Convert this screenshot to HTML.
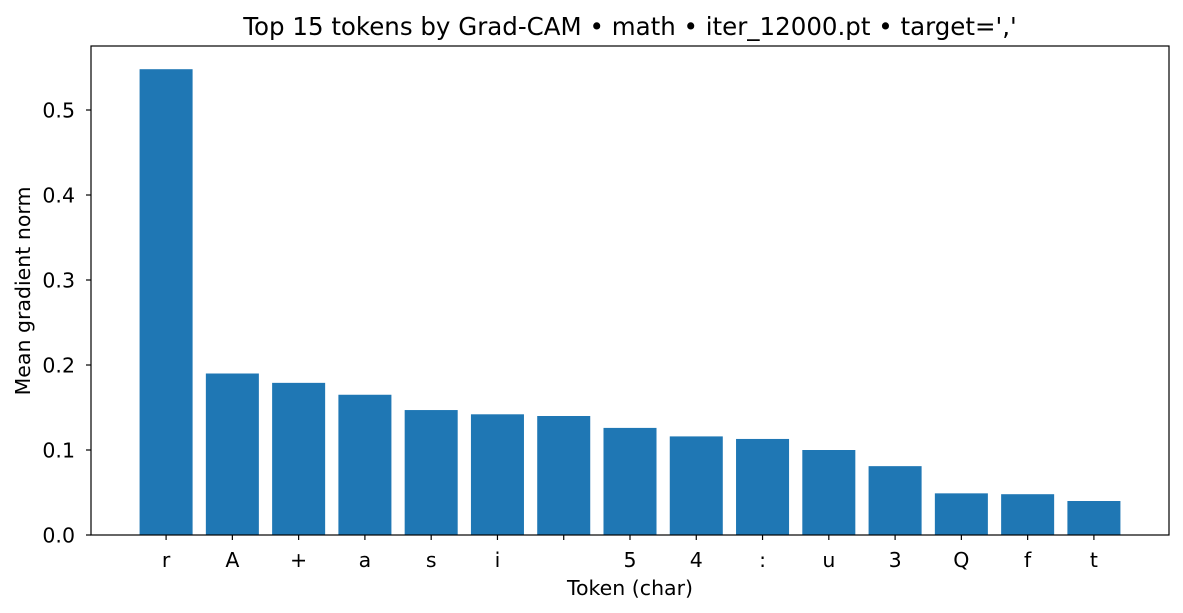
<!DOCTYPE html>
<html><head><meta charset="utf-8">
<style>
html,body{margin:0;padding:0;background:#fff;}
svg{display:block;font-family:"DejaVu Sans","Liberation Sans",sans-serif;}
</style></head>
<body>
<svg id="chart" width="1183" height="613" viewBox="0 0 1183 613">
<text x="630" y="35" font-size="24.5" text-anchor="middle" fill="#000">Top 15 tokens by Grad-CAM • math • iter_12000.pt • target=','</text>
<g id="bars"></g>
<g id="yaxis"></g>
<g id="xaxis"></g>
<rect x="91" y="46" width="1078" height="489" fill="none" stroke="#000" stroke-width="1.2"/>
<text x="630" y="595" font-size="20.5" text-anchor="middle">Token (char)</text>
<text transform="translate(30,291) rotate(-90)" font-size="20.5" text-anchor="middle">Mean gradient norm</text>
</svg>
<script>
const categories = ["r","A","+","a","s","i"," ","5","4",":","u","3","Q","f","t"];
const values = [0.548,0.190,0.179,0.165,0.147,0.142,0.140,0.126,0.116,0.113,0.100,0.081,0.049,0.048,0.040];
const yTicks = [0.0,0.1,0.2,0.3,0.4,0.5];
const yTickLabels = ["0.0","0.1","0.2","0.3","0.4","0.5"];

const NS="http://www.w3.org/2000/svg";
const x0=91,x1=1169,yTop=46,yBot=535;
const xMin=-1.133,xMax=categories.length-1+1.133;
const yMin=0,yMax=0.5753;
function xs(i){return x0+(i-xMin)/(xMax-xMin)*(x1-x0);}
function ys(v){return yBot-(v-yMin)/(yMax-yMin)*(yBot-yTop);}
const unit=xs(1)-xs(0), bw=unit*0.8;
const bars=document.getElementById('bars');
const xa=document.getElementById('xaxis');
const ya=document.getElementById('yaxis');
function mk(tag,attrs,parent){const e=document.createElementNS(NS,tag);for(const k in attrs)e.setAttribute(k,attrs[k]);parent.appendChild(e);return e;}
categories.forEach((c,i)=>{
  const r=mk('rect',{x:xs(i)-bw/2,y:ys(values[i]),width:bw,height:ys(0)-ys(values[i]),fill:'#1f77b4'},bars);
  
  
  const t=mk('line',{x1:xs(i),x2:xs(i),y1:yBot,y2:yBot+5,stroke:'#000','stroke-width':1.2},xa);
  
  
  const l=mk('text',{x:xs(i),y:yBot+32,'font-size':20.5,'text-anchor':'middle'},xa);
  l.textContent=c;
  
  
});
yTicks.forEach((v,i)=>{
  const t=mk('line',{x1:x0-5,x2:x0,y1:ys(v),y2:ys(v),stroke:'#000','stroke-width':1.2},ya);
  
  
  const l=mk('text',{x:x0-16,y:ys(v)+7.5,'font-size':20.5,'text-anchor':'end'},ya);
  l.textContent=yTickLabels[i];
  
  
});
</script>
</body></html>
